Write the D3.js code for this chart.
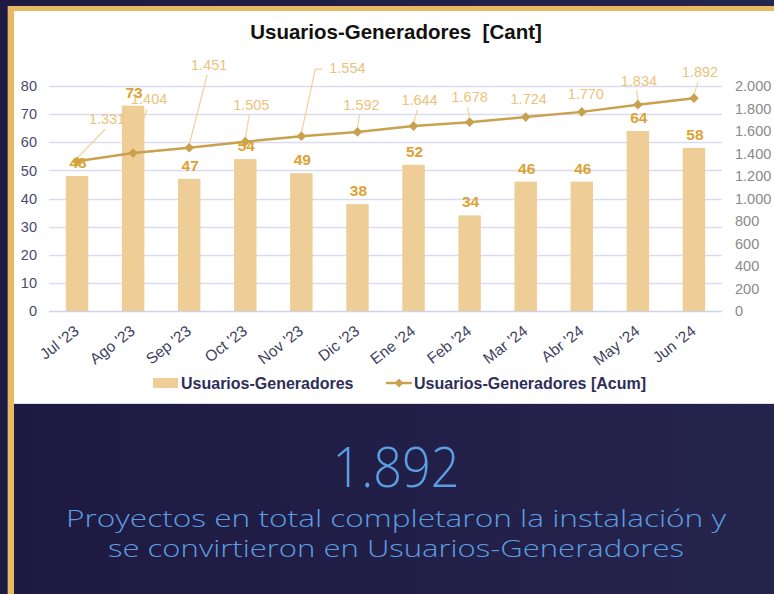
<html>
  <head>
    <title>Usuarios-Generadores</title>
    <script src="https://d3js.org/d3.v7.min.js"></script>
    <style type="text/css">
      body { margin: 0; background: #1f1a42; }
      svg { display: block; }
      .axis text { font-family: "Liberation Sans", Arial, sans-serif; }
    </style>
  </head>
  <body>
    <svg id="chart" width="774" height="594"></svg>
  </body>
  <script type="text/javascript">

    // data
    var months = ["Jul '23", "Ago '23", "Sep '23", "Oct '23", "Nov '23", "Dic '23",
                  "Ene '24", "Feb '24", "Mar '24", "Abr '24", "May '24", "Jun '24"];
    var monthly = [48, 73, 47, 54, 49, 38, 52, 34, 46, 46, 64, 58];
    var cumulative = [1331, 1404, 1451, 1505, 1554, 1592, 1644, 1678, 1724, 1770, 1834, 1892];
    var leftTicks = [0, 10, 20, 30, 40, 50, 60, 70, 80];
    var rightTicks = [0, 200, 400, 600, 800, 1000, 1200, 1400, 1600, 1800, 2000];
    var total = 1892;

    // where excel left the accumulated labels (dx, dy from point, leader type)
    var accLabelPos = [[30, -42, "b"], [16, -54, "b"], [20, -83, "b"], [6, -37, "b"],
                       [46, -68, "l"], [4, -27, "b"], [6, -26, "b"], [0, -25, "b"],
                       [3, -18, ""], [4, -18, ""], [1, -24, "b"], [6, -26, "b"]];

    var fmt = function(v) { return d3.format(",")(v).replace(/,/g, "."); };

    var svg = d3.select("#chart");
    var chartFont = "'Liberation Sans', Arial, sans-serif";

    var defs = svg.append("defs");
    var bg = defs.append("linearGradient")
      .attr("id", "bg")
      .attr("x1", "0%").attr("y1", "0%")
      .attr("x2", "100%").attr("y2", "0%");
    bg.append("stop").attr("offset", "0%").attr("stop-color", "#1e1941");
    bg.append("stop").attr("offset", "100%").attr("stop-color", "#25244d");

    svg.append("rect").attr("width", 774).attr("height", 594).attr("fill", "url(#bg)");

    // gold frame + white panel
    svg.append("rect").attr("x", 7).attr("y", 6).attr("width", 1).attr("height", 588).attr("fill", "#5a5060");
    svg.append("rect").attr("x", 8).attr("y", 6).attr("width", 6).attr("height", 588).attr("fill", "#e9b962");
    svg.append("rect").attr("x", 8).attr("y", 6).attr("width", 766).attr("height", 5).attr("fill", "#e9b962");
    svg.append("rect").attr("x", 14).attr("y", 11).attr("width", 760).attr("height", 392).attr("fill", "#ffffff");
    svg.append("line").attr("x1", 14).attr("x2", 774).attr("y1", 403.5).attr("y2", 403.5)
      .attr("stroke", "#dcdcec").attr("stroke-width", 1);

    // title
    svg.append("text")
      .attr("x", 396).attr("y", 39)
      .attr("text-anchor", "middle")
      .style("font-family", chartFont)
      .style("font-weight", "bold")
      .style("font-size", "20.5px")
      .attr("fill", "#111111")
      .attr("xml:space", "preserve")
      .text("Usuarios-Generadores  [Cant]");

    var x = d3.scaleBand()
      .domain(months)
      .range([49, 722])
      .paddingInner(0.6)
      .paddingOuter(0.3);

    var y = d3.scaleLinear().domain([0, 80]).range([311, 86]);
    var y2 = d3.scaleLinear().domain([0, 2000]).range([311, 86]);

    // gridlines
    svg.append("g").selectAll("line")
      .data(leftTicks)
      .enter().append("line")
      .attr("x1", 49).attr("x2", 722)
      .attr("y1", function(d) { return Math.round(y(d)) + 0.5; })
      .attr("y2", function(d) { return Math.round(y(d)) + 0.5; })
      .attr("stroke", function(d) { return d === 0 ? "#cfd2ea" : "#dadcf2"; })
      .attr("stroke-width", 1.3);

    // left axis
    var yAxis = d3.axisLeft(y).tickValues(leftTicks).tickSize(0).tickPadding(0);
    var gy = svg.append("g").attr("class", "axis").attr("transform", "translate(37,0)").call(yAxis);
    gy.select(".domain").remove();
    gy.selectAll("text").attr("fill", "#4a4a6a").style("font-size", "14.5px");

    // right axis
    var y2Axis = d3.axisRight(y2).tickValues(rightTicks).tickSize(0).tickPadding(0).tickFormat(fmt);
    var gy2 = svg.append("g").attr("class", "axis").attr("transform", "translate(735,0)").call(y2Axis);
    gy2.select(".domain").remove();
    gy2.selectAll("text").attr("fill", "#8a8a8a").style("font-size", "14.5px");

    // x axis labels
    var xAxis = d3.axisBottom(x).tickSize(0).tickPadding(0);
    var gx = svg.append("g").attr("class", "axis").attr("transform", "translate(0,311)").call(xAxis);
    gx.select(".domain").remove();
    gx.selectAll("text")
      .attr("fill", "#3f3f62")
      .style("font-size", "15.5px")
      .attr("text-anchor", "end")
      .attr("dy", null)
      .attr("y", 0)
      .attr("transform", "translate(3,22) rotate(-38)");

    // bars
    svg.append("g").selectAll("rect")
      .data(monthly)
      .enter().append("rect")
      .attr("x", function(d, i) { return x(months[i]); })
      .attr("y", function(d) { return y(d); })
      .attr("width", x.bandwidth())
      .attr("height", function(d) { return y(0) - y(d); })
      .attr("fill", "#eecd97");

    // accumulated line
    var cx = function(i) { return x(months[i]) + x.bandwidth() / 2; };
    var line = d3.line()
      .x(function(d, i) { return cx(i); })
      .y(function(d) { return y2(d); });

    // leader lines under the line
    var leaders = svg.append("g")
      .attr("stroke", "#f1d29c")
      .attr("stroke-width", 1.2)
      .attr("fill", "none");
    cumulative.forEach(function(v, i) {
      var p = accLabelPos[i];
      if (!p[2]) return;
      var px = cx(i), py = y2(v);
      var lx = px + p[0], ly = py + p[1];
      if (p[2] === "b") {
        leaders.append("path").attr("d", d3.line()([[px, py - 3], [lx - 2, ly + 10]]));
      } else {
        var left = lx - 18;
        leaders.append("path").attr("d", d3.line()([[px, py - 3], [left - 14, ly + 1], [left - 7, ly + 1]]));
      }
    });

    svg.append("path")
      .datum(cumulative)
      .attr("d", line)
      .attr("fill", "none")
      .attr("stroke", "#c9a24f")
      .attr("stroke-width", 2.5);

    svg.append("g").selectAll("path")
      .data(cumulative)
      .enter().append("path")
      .attr("d", d3.symbol().type(d3.symbolDiamond2).size(60))
      .attr("transform", function(d, i) { return "translate(" + cx(i) + "," + y2(d) + ")"; })
      .attr("fill", "#c9a24f");

    // line labels
    svg.append("g").selectAll("text")
      .data(cumulative)
      .enter().append("text")
      .attr("x", function(d, i) { return cx(i) + accLabelPos[i][0]; })
      .attr("y", function(d, i) { return y2(d) + accLabelPos[i][1] + 5; })
      .attr("text-anchor", "middle")
      .style("font-family", chartFont)
      .style("font-size", "14.5px")
      .attr("fill", "#edc27c")
      .text(fmt);

    // bar labels
    svg.append("g").selectAll("text")
      .data(monthly)
      .enter().append("text")
      .attr("x", function(d, i) { return cx(i) + 1; })
      .attr("y", function(d) { return y(d) - 8; })
      .attr("text-anchor", "middle")
      .style("font-family", chartFont)
      .style("font-weight", "bold")
      .style("font-size", "15.5px")
      .attr("fill", "#dca234")
      .text(function(d) { return d; });

    // legend
    var leg = svg.append("g")
      .style("font-family", chartFont)
      .style("font-weight", "bold")
      .style("font-size", "16px")
      .attr("fill", "#2e2e58");
    leg.append("rect").attr("x", 153).attr("y", 378).attr("width", 25).attr("height", 10).attr("fill", "#eecd97");
    leg.append("text").attr("x", 181).attr("y", 389).text("Usuarios-Generadores");
    leg.append("line").attr("x1", 386).attr("x2", 412).attr("y1", 383).attr("y2", 383)
      .attr("stroke", "#c9a24f").attr("stroke-width", 2.5);
    leg.append("path")
      .attr("d", d3.symbol().type(d3.symbolDiamond2).size(50))
      .attr("transform", "translate(399,383)")
      .attr("fill", "#c9a24f");
    leg.append("text").attr("x", 414).attr("y", 389).text("Usuarios-Generadores [Acum]");

    // summary below the chart
    var lightFont = "'Open Sans', Lato, 'Noto Sans', sans-serif";
    svg.append("text")
      .attr("x", 396).attr("y", 487)
      .attr("text-anchor", "middle")
      .style("font-family", lightFont)
      .style("font-weight", 300)
      .style("font-size", "55px")
      .attr("fill", "#5b9ee2")
      .attr("textLength", 127)
      .attr("lengthAdjust", "spacingAndGlyphs")
      .text(fmt(total));

    var lines = ["Proyectos en total completaron la instalación y",
                 "se convirtieron en Usuarios-Generadores"];
    var widths = [660, 576];
    svg.append("g").selectAll("text")
      .data(lines)
      .enter().append("text")
      .attr("x", 396)
      .attr("y", function(d, i) { return 527 + i * 30; })
      .attr("text-anchor", "middle")
      .style("font-family", lightFont)
      .style("font-weight", 300)
      .style("font-size", "24.5px")
      .attr("fill", "#5b9ee2")
      .attr("textLength", function(d, i) { return widths[i]; })
      .attr("lengthAdjust", "spacingAndGlyphs")
      .text(function(d) { return d; });

  </script>
</html>
